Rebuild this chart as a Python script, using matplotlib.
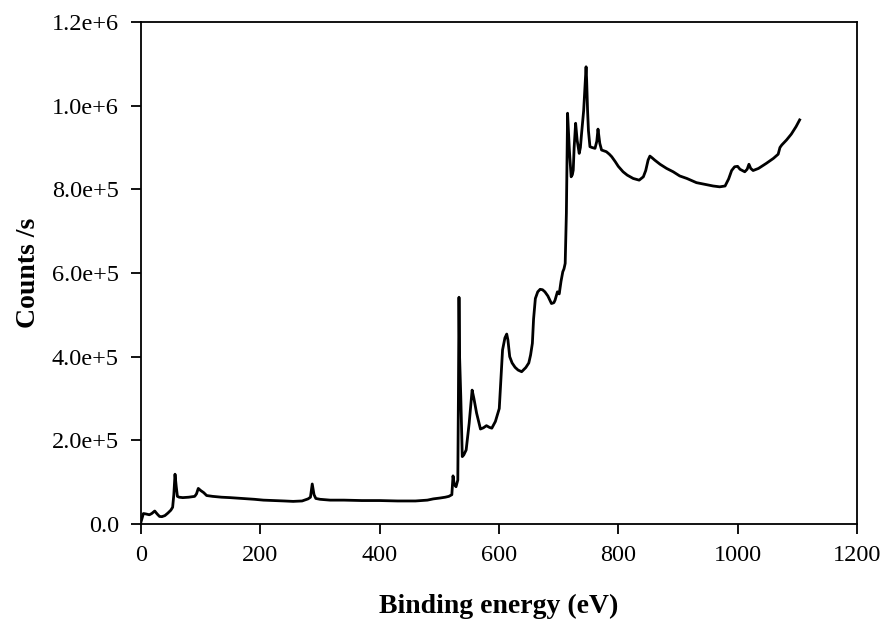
import matplotlib
matplotlib.use("Agg")
import matplotlib.pyplot as plt
from matplotlib.ticker import FuncFormatter

binding_energy = [0, 2, 4, 8, 14, 18, 23, 27, 31, 35, 40, 45, 50, 53, 55, 57, 59, 61, 64, 70, 80, 90, 93,
                  96, 100, 105, 110, 120, 135, 149, 170, 190, 205, 225, 240, 255, 270, 280, 284, 287, 290,
                  293, 300, 317, 340, 370, 400, 430, 460, 480, 490, 501, 510, 516, 521, 523, 525, 528, 531,
                  532, 533, 534, 536, 538.5, 541, 545, 550, 555, 558, 562.5, 569, 574, 579, 584, 588, 594,
                  600.5, 603, 606, 610, 613, 615, 618, 622, 627, 632, 638, 645, 650, 653, 656, 658, 661,
                  665, 669, 673, 677, 682, 688, 692, 694, 698, 701, 704, 707, 709, 711, 712, 713, 715,
                  716.5, 718, 721, 723, 724.5, 726, 728.5, 731, 734.5, 736.5, 738.5, 742, 744, 746, 747,
                  748.5, 750, 752.5, 756, 761, 764, 766, 769, 772, 776, 780, 785, 789, 795, 800, 808, 815,
                  825, 835, 842, 846, 850, 853, 857, 861, 870, 881, 892, 903, 915, 931, 945, 959, 970, 979,
                  985, 990, 995, 1000, 1004, 1008, 1012, 1016, 1019, 1022, 1026, 1035, 1048, 1060, 1068,
                  1071, 1074, 1078, 1082, 1090, 1098, 1104]
counts = [5000, 15000, 25000, 24000, 22000, 25000, 31000, 24000, 18000, 17500, 20000, 26000, 33000,
          40000, 70000, 119000, 90000, 66000, 64000, 63000, 64000, 66000, 72000, 85000, 80000, 75000,
          68000, 66000, 64000, 63000, 61000, 59000, 57000, 56000, 55000, 54000, 55000, 60000, 64000,
          95600, 70000, 61000, 59000, 57000, 57000, 56000, 56000, 55000, 55000, 57000, 60000, 62000,
          64000, 66000, 70000, 115000, 95000, 89000, 105000, 300000, 542000, 400000, 304000, 161000,
          165000, 177000, 240000, 320000, 300000, 265000, 227000, 230000, 235000, 231000, 229000, 245000,
          276000, 340000, 416000, 445000, 454000, 440000, 400000, 385000, 374500, 368000, 364000, 374000,
          385000, 404000, 432000, 490000, 539000, 555000, 561000, 560000, 555000, 545000, 527000, 529000,
          535000, 555000, 550000, 580000, 603000, 610000, 623000, 680000, 743000, 982000, 940000, 894000,
          830000, 835000, 846000, 900000, 958000, 918000, 886000, 900000, 934000, 989000, 1040000,
          1093000, 1060000, 989000, 940000, 902000, 900000, 898000, 915000, 944000, 910000, 894000,
          892000, 890000, 884000, 878000, 866000, 855000, 842000, 834000, 826000, 822000, 830000, 845000,
          870000, 879500, 875000, 870000, 860000, 850000, 842000, 832000, 826000, 816000, 812000, 808000,
          806000, 808000, 825000, 845000, 854000, 855000, 848000, 845000, 842000, 848000, 860000, 850000,
          845000, 850000, 862000, 874000, 884000, 900000, 906000, 912000, 918000, 932000, 950000, 966000]

x_ticks = [0, 200, 400, 600, 800, 1000, 1200]
y_ticks = [0, 2e5, 4e5, 6e5, 8e5, 1e6, 1.2e6]

plt.rcParams['font.family'] = ['Liberation Serif', 'DejaVu Serif']

fig = plt.figure(figsize=(8.88, 6.24), dpi=100)
ax = fig.add_axes([0.1588, 0.1603, 0.8062, 0.8044])
ax.plot(binding_energy, counts, color='black', lw=2.0)

ax.set_xlim(0, 1200)
ax.set_ylim(0, 1.2e6)
ax.set_xticks(x_ticks)
ax.set_yticks(y_ticks)


def yfmt(v, pos):
    if v == 0:
        return "0.0"
    s = "%.1e" % v
    mant, exp = s.split("e")
    return "%se+%d" % (mant, int(exp))


ax.yaxis.set_major_formatter(FuncFormatter(yfmt))
ax.tick_params(direction='out', length=7, width=1.3, labelsize=17.5, pad=8)
ax.tick_params(axis='y', pad=9)
for sp in ax.spines.values():
    sp.set_linewidth(1.3)

ax.set_xlabel("Binding energy (eV)", fontsize=20, fontweight='bold', labelpad=20)
ax.set_ylabel("Counts /s", fontsize=20, fontweight='bold', labelpad=8)

fig.savefig("out.png", dpi=100)
